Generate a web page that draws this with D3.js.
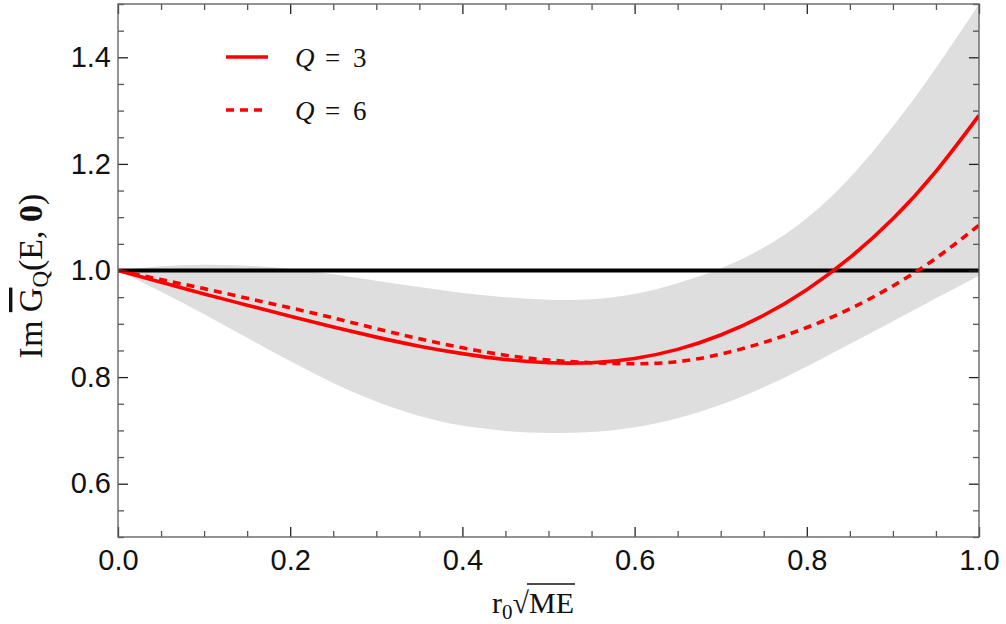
<!DOCTYPE html>
<html>
<head>
<meta charset="utf-8">
<script src="https://cdn.jsdelivr.net/npm/d3@7"></script>
<style>
  body { margin: 0; background: #fff; }
  svg { display: block; }
</style>
</head>
<body>
<svg id="chart" width="1006" height="624"></svg>
<script>
// values
var xs     = [0, 0.05, 0.1, 0.15, 0.2, 0.25, 0.3, 0.35, 0.4, 0.45, 0.5, 0.55, 0.6, 0.65, 0.7, 0.75, 0.8, 0.85, 0.9, 0.95, 1.0];
var q3     = [1.0, 0.978, 0.956, 0.935, 0.914, 0.894, 0.875, 0.858, 0.844, 0.833, 0.827, 0.827, 0.835, 0.852, 0.879, 0.916, 0.964, 1.024, 1.097, 1.186, 1.291];
var q6     = [1.0, 0.983, 0.966, 0.948, 0.930, 0.911, 0.891, 0.872, 0.855, 0.841, 0.832, 0.827, 0.825, 0.829, 0.843, 0.865, 0.893, 0.928, 0.971, 1.023, 1.085];
var bandLo = [1.0, 0.960, 0.918, 0.874, 0.830, 0.789, 0.754, 0.727, 0.709, 0.699, 0.695, 0.697, 0.706, 0.723, 0.748, 0.781, 0.820, 0.862, 0.905, 0.948, 0.990];
var bandHi = [1.0, 1.008, 1.011, 1.009, 1.003, 0.993, 0.981, 0.969, 0.958, 0.950, 0.945, 0.946, 0.956, 0.976, 1.004, 1.043, 1.098, 1.174, 1.270, 1.380, 1.500];
var legendLabels = ["3", "6"];
var xMajor = [0, 0.2, 0.4, 0.6, 0.8, 1.0];
var yMajor = [0.6, 0.8, 1.0, 1.2, 1.4];

var margin = {top: 4, right: 27, bottom: 87, left: 118};
var width = 1006 - margin.left - margin.right;
var height = 624 - margin.top - margin.bottom;

var svg = d3.select('#chart');
var g = svg.append('g').attr('transform', 'translate(' + margin.left + ',' + margin.top + ')');

var x = d3.scaleLinear().domain([0, 1]).range([0, width]);
var y = d3.scaleLinear().domain([0.5, 1.5]).range([height, 0]);

var xMinor = d3.range(0, 1.0001, 0.05).filter(function(v) { return Math.abs(v * 5 - Math.round(v * 5)) > 1e-6; });
var yMinor = d3.range(0.5, 1.5001, 0.05).filter(function(v) { return Math.abs(v * 5 - Math.round(v * 5)) > 1e-6; });

g.append('clipPath').attr('id', 'plotclip')
  .append('rect').attr('width', width).attr('height', height);

var plot = g.append('g').attr('clip-path', 'url(#plotclip)');

var rows = xs.map(function(v, i) { return {x: v, lo: bandLo[i], hi: bandHi[i], a: q3[i], b: q6[i]}; });

plot.append('path')
  .datum(rows)
  .attr('fill', '#dedede')
  .attr('d', d3.area().curve(d3.curveNatural)
    .x(function(d) { return x(d.x); })
    .y0(function(d) { return y(d.lo); })
    .y1(function(d) { return y(d.hi); }));

plot.append('line')
  .attr('x1', 0).attr('x2', width)
  .attr('y1', y(1)).attr('y2', y(1))
  .attr('stroke', '#000').attr('stroke-width', 4.2);

var lineA = d3.line().curve(d3.curveNatural).x(function(d) { return x(d.x); }).y(function(d) { return y(d.a); });
var lineB = d3.line().curve(d3.curveNatural).x(function(d) { return x(d.x); }).y(function(d) { return y(d.b); });

plot.append('path').datum(rows)
  .attr('fill', 'none').attr('stroke', '#ff0000').attr('stroke-width', 3.6)
  .attr('stroke-dasharray', '8,6')
  .attr('d', lineB);

plot.append('path').datum(rows)
  .attr('fill', 'none').attr('stroke', '#ff0000').attr('stroke-width', 3.6)
  .attr('d', lineA);

// axes: ticks point inward on all four sides
function styleAxis(sel, color) {
  sel.select('.domain').remove();
  sel.selectAll('.tick line').attr('stroke', color).attr('stroke-width', 1.3);
  sel.selectAll('text')
    .attr('font-family', 'Liberation Sans, Arial, sans-serif')
    .attr('font-size', 29)
    .attr('fill', '#111');
}

g.append('g').attr('transform', 'translate(0,' + height + ')')
  .call(d3.axisBottom(x).tickValues(xMajor).tickSize(-10).tickPadding(12).tickFormat(d3.format('.1f')))
  .call(styleAxis, '#222');
g.append('g').attr('transform', 'translate(0,' + height + ')')
  .call(d3.axisBottom(x).tickValues(xMinor).tickSize(-6).tickFormat(''))
  .call(styleAxis, '#555');
g.append('g')
  .call(d3.axisTop(x).tickValues(xMajor).tickSize(-10).tickFormat(''))
  .call(styleAxis, '#222');
g.append('g')
  .call(d3.axisTop(x).tickValues(xMinor).tickSize(-6).tickFormat(''))
  .call(styleAxis, '#555');

g.append('g')
  .call(d3.axisLeft(y).tickValues(yMajor).tickSize(-10).tickPadding(7).tickFormat(d3.format('.1f')))
  .call(styleAxis, '#222');
g.append('g')
  .call(d3.axisLeft(y).tickValues(yMinor).tickSize(-6).tickFormat(''))
  .call(styleAxis, '#555');
g.append('g').attr('transform', 'translate(' + width + ',0)')
  .call(d3.axisRight(y).tickValues(yMajor).tickSize(-10).tickFormat(''))
  .call(styleAxis, '#222');
g.append('g').attr('transform', 'translate(' + width + ',0)')
  .call(d3.axisRight(y).tickValues(yMinor).tickSize(-6).tickFormat(''))
  .call(styleAxis, '#555');

g.append('rect')
  .attr('width', width).attr('height', height)
  .attr('fill', 'none').attr('stroke', '#666').attr('stroke-width', 1.4);

// axis titles
var serif = 'Liberation Serif, DejaVu Serif, serif';

var xt = svg.append('text')
  .attr('x', 492).attr('y', 613)
  .attr('font-family', serif).attr('font-size', 30).attr('fill', '#111');
xt.append('tspan').text('r');
xt.append('tspan').attr('font-size', 21).attr('dy', 6).text('0');
xt.append('tspan').attr('dy', -6).text('\u221A');
var me = xt.append('tspan').text('ME');
// overline for the square root
var meBox = me.node().getExtentOfChar(0);
var meEnd = me.node().getExtentOfChar(1);
svg.append('line')
  .attr('x1', meBox.x - 2).attr('x2', meEnd.x + meEnd.width + 1)
  .attr('y1', 584).attr('y2', 584)
  .attr('stroke', '#111').attr('stroke-width', 1.6);

var yt = svg.append('text')
  .attr('transform', 'translate(42,276) rotate(-90)')
  .attr('text-anchor', 'middle')
  .attr('font-family', serif).attr('font-size', 34).attr('fill', '#111');
yt.append('tspan').text('Im ');
yt.append('tspan').attr('text-decoration', 'overline').text('G');
yt.append('tspan').attr('font-size', 23).attr('dy', 6).text('Q');
yt.append('tspan').attr('dy', -6).text('(E, ');
yt.append('tspan').attr('font-weight', 'bold').text('0');
yt.append('tspan').text(')');

// legend
var legend = svg.append('g');
legendLabels.forEach(function(lab, i) {
  var row = legend.append('g').attr('transform', 'translate(0,' + (57 + i * 53) + ')');
  row.append('line')
    .attr('x1', 226).attr('x2', 268)
    .attr('stroke', '#ff0000').attr('stroke-width', 3.6)
    .attr('stroke-dasharray', i === 1 ? '8,6' : null);
  var t = row.append('text').attr('y', 10)
    .attr('font-family', serif).attr('font-size', 27).attr('fill', '#111');
  t.append('tspan').attr('x', 295).attr('font-style', 'italic').text('Q');
  t.append('tspan').attr('x', 325).text('=');
  t.append('tspan').attr('x', 353).text(lab);
});
</script>
</body>
</html>
